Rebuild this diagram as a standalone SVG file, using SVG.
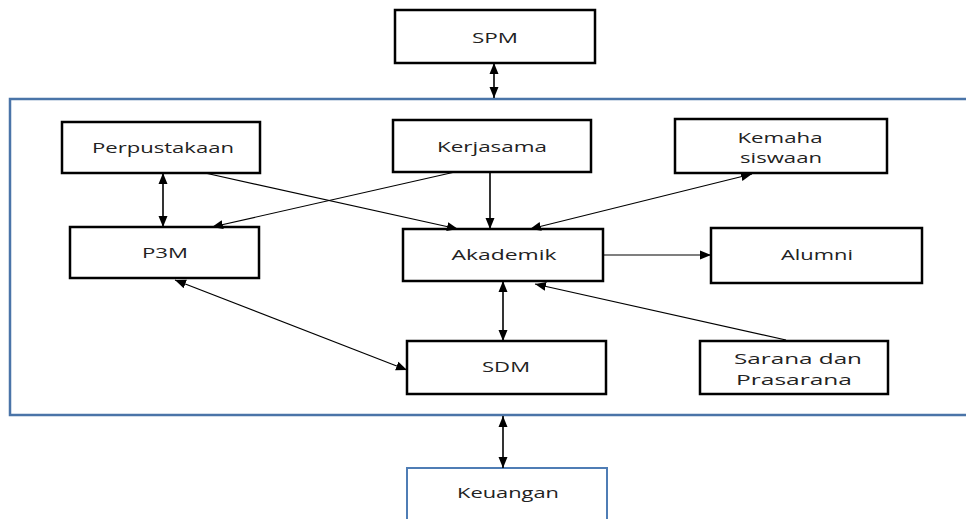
<svg xmlns="http://www.w3.org/2000/svg" width="966" height="519" viewBox="0 0 966 519">
<style>
.box{fill:#fff;stroke:#000;stroke-width:2.5}
.blue{fill:none;stroke:#4a74a8;stroke-width:2.5}
.kb{fill:#fff;stroke:#4f7db5;stroke-width:2}
text{font-family:"Open Sans","Liberation Sans",sans-serif;font-size:15px;fill:#222;text-anchor:middle}
.c line{stroke:#000;stroke-width:1.2}
.c line.t{stroke-width:1.6}
</style>
<defs>
<marker id="ah" markerUnits="userSpaceOnUse" markerWidth="12" markerHeight="12" viewBox="0 0 12 12" refX="11" refY="6" orient="auto-start-reverse">
<path d="M0,1.5 L11,6 L0,10.5 Z" fill="#000"/>
</marker>
</defs>
<rect width="966" height="519" fill="#fff"/>
<g id="container"><rect class="blue" x="10" y="99" width="966" height="316"/></g>
<g id="spm"><rect class="box" x="395" y="10" width="200" height="53"/><text x="495" y="43" textLength="46" lengthAdjust="spacingAndGlyphs">SPM</text></g>
<g id="perpustakaan"><rect class="box" x="62" y="122" width="198" height="51"/><text x="163" y="153" textLength="142" lengthAdjust="spacingAndGlyphs">Perpustakaan</text></g>
<g id="kerjasama"><rect class="box" x="393" y="120" width="198" height="52"/><text x="492" y="152" textLength="110" lengthAdjust="spacingAndGlyphs">Kerjasama</text></g>
<g id="kemahasiswaan"><rect class="box" x="675" y="119" width="212" height="54"/><text x="780" y="143" textLength="85" lengthAdjust="spacingAndGlyphs">Kemaha</text><text x="781" y="163" textLength="82" lengthAdjust="spacingAndGlyphs">siswaan</text></g>
<g id="p3m"><rect class="box" x="70" y="227" width="189" height="51"/><text x="165" y="258" textLength="46" lengthAdjust="spacingAndGlyphs">P3M</text></g>
<g id="akademik"><rect class="box" x="403" y="229" width="200" height="52"/><text x="504" y="260" textLength="105" lengthAdjust="spacingAndGlyphs">Akademik</text></g>
<g id="alumni"><rect class="box" x="711" y="228" width="211" height="55"/><text x="817" y="260" textLength="72" lengthAdjust="spacingAndGlyphs">Alumni</text></g>
<g id="sdm"><rect class="box" x="407" y="341" width="199" height="53"/><text x="506" y="372" textLength="48" lengthAdjust="spacingAndGlyphs">SDM</text></g>
<g id="sarana"><rect class="box" x="700" y="341" width="188" height="53"/><text x="798" y="364" textLength="128" lengthAdjust="spacingAndGlyphs">Sarana dan</text><text x="794" y="385" textLength="116" lengthAdjust="spacingAndGlyphs">Prasarana</text></g>
<g id="keuangan"><rect class="kb" x="407" y="468" width="200" height="62"/><text x="508" y="498" textLength="102" lengthAdjust="spacingAndGlyphs">Keuangan</text></g>
<g class="c" id="connectors">
<line class="t" x1="494" y1="63" x2="494" y2="98" marker-start="url(#ah)" marker-end="url(#ah)"/>
<line class="t" x1="163" y1="173" x2="163" y2="227" marker-start="url(#ah)" marker-end="url(#ah)"/>
<line x1="205" y1="173" x2="458" y2="229" marker-end="url(#ah)"/>
<line x1="455" y1="172" x2="212" y2="227" marker-end="url(#ah)"/>
<line class="t" x1="490" y1="172" x2="490" y2="229" marker-end="url(#ah)"/>
<line x1="752" y1="174" x2="530" y2="229" marker-start="url(#ah)" marker-end="url(#ah)"/>
<line x1="603" y1="255" x2="711" y2="255" marker-end="url(#ah)"/>
<line class="t" x1="503" y1="281" x2="503" y2="341" marker-start="url(#ah)" marker-end="url(#ah)"/>
<line x1="175" y1="280" x2="407" y2="370" marker-start="url(#ah)" marker-end="url(#ah)"/>
<line x1="786" y1="340" x2="535" y2="284" marker-end="url(#ah)"/>
<line class="t" x1="503" y1="416" x2="503" y2="468" marker-start="url(#ah)" marker-end="url(#ah)"/>
</g>
</svg>
